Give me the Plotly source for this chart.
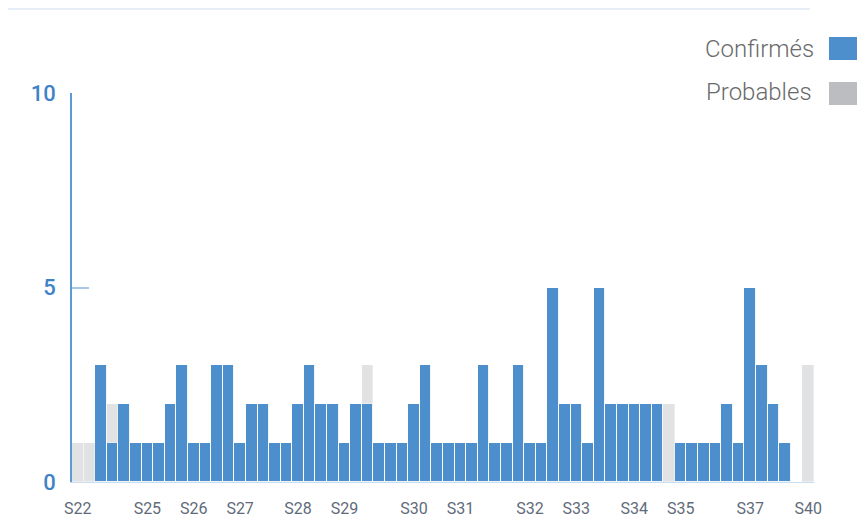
import plotly.graph_objects as go

# One bar per reporting day (64 days, weeks S22 to S40)
day_index = list(range(64))
confirmes = [0, 0, 3, 1, 2, 1, 1, 1, 2, 3, 1, 1, 3, 3, 1, 2, 2, 1, 1, 2,
             3, 2, 2, 1, 2, 2, 1, 1, 1, 2, 3, 1, 1, 1, 1, 3, 1, 1, 3, 1,
             1, 5, 2, 2, 1, 5, 2, 2, 2, 2, 2, 0, 1, 1, 1, 1, 2, 1, 5, 3,
             2, 1, 0, 0]
probables = [1, 1, 0, 1, 0, 0, 0, 0, 0, 0, 0, 0, 0, 0, 0, 0, 0, 0, 0, 0,
             0, 0, 0, 0, 0, 1, 0, 0, 0, 0, 0, 0, 0, 0, 0, 0, 0, 0, 0, 0,
             0, 0, 0, 0, 0, 0, 0, 0, 0, 0, 0, 2, 0, 0, 0, 0, 0, 0, 0, 0,
             0, 0, 0, 3]
week_tick_index = [0, 6, 10, 14, 19, 23, 29, 33, 39, 43, 48, 52, 58, 63]
week_tick_label = ["S22", "S25", "S26", "S27", "S28", "S29", "S30", "S31",
                   "S32", "S33", "S34", "S35", "S37", "S40"]
y_ticks = [0, 5, 10]

BLUE = "#4d8fcc"
GRAY_BAR = "#e1e2e4"
GRAY_LEG = "#bcbdc0"

fig = go.Figure()
fig.add_trace(go.Bar(x=day_index, y=confirmes, name="Confirmés",
                     marker=dict(color=BLUE, line=dict(color="rgba(255,255,255,0.9)", width=1)),
                     showlegend=False))
fig.add_trace(go.Bar(x=day_index, y=probables, name="Probables",
                     marker=dict(color=GRAY_BAR, line=dict(color="rgba(255,255,255,0.6)", width=0.6)),
                     showlegend=False))

OFF = 8  # page body margin (top/left)
W, H = 865, 524
# target screen positions of plot area
SX0, SX1, SY0, SY1 = 72, 814, 93, 482
L, R, T = SX0 - OFF, W - (SX1 - OFF), SY0 - OFF
B = H - (SY1 - OFF)
pw, ph = SX1 - SX0, SY1 - SY0

def px(x):
    return (x - SX0) / pw

def py(y):
    return (SY1 - y) / ph

fig.update_layout(
    width=W, height=H,
    margin=dict(l=L, r=R, t=T, b=B, autoexpand=False),
    barmode="stack", bargap=0,
    plot_bgcolor="white", paper_bgcolor="white",
    xaxis=dict(range=[-0.5, 63.5], tickmode="array", tickvals=week_tick_index,
               ticktext=week_tick_label, showgrid=False, zeroline=False,
               showline=True, linecolor="#c9ddf1", linewidth=1, automargin=False,
               ticks="", ticklabelstandoff=12,
               tickfont=dict(family="Roboto", size=16, color="#5f6b7a")),
    yaxis=dict(range=[0, 10], tickmode="array", tickvals=y_ticks,
               showgrid=False, zeroline=False, automargin=False,
               showline=True, linecolor="#5b9bd5", linewidth=1.5,
               ticks="inside", ticklen=17, tickwidth=2, tickcolor="#a9c9ea",
               ticklabelstandoff=10,
               tickfont=dict(family="Roboto", size=22, color="#3f82c8", weight=500)),
    showlegend=False,
)

# manual legend (text left of colour swatch)
fig.add_annotation(xref="paper", yref="paper", x=px(816), y=py(49), text="Confirmés",
                   showarrow=False, xanchor="right", yanchor="middle",
                   font=dict(family="Roboto", size=24, color="#6a6a6a", weight=300))
fig.add_annotation(xref="paper", yref="paper", x=px(814), y=py(92), text="Probables",
                   showarrow=False, xanchor="right", yanchor="middle",
                   font=dict(family="Roboto", size=24, color="#6a6a6a", weight=300))
fig.add_shape(type="rect", xref="paper", yref="paper", x0=px(829), x1=px(875),
              y0=py(60), y1=py(37), fillcolor=BLUE, line=dict(width=0))
fig.add_shape(type="rect", xref="paper", yref="paper", x0=px(829), x1=px(875),
              y0=py(105), y1=py(82), fillcolor=GRAY_LEG, line=dict(width=0))
# faint top border line
fig.add_shape(type="line", xref="paper", yref="paper", x0=px(8), x1=px(810),
              y0=py(9), y1=py(9), line=dict(color="#dfe9f4", width=1.5))

fig.write_html("out.html")
